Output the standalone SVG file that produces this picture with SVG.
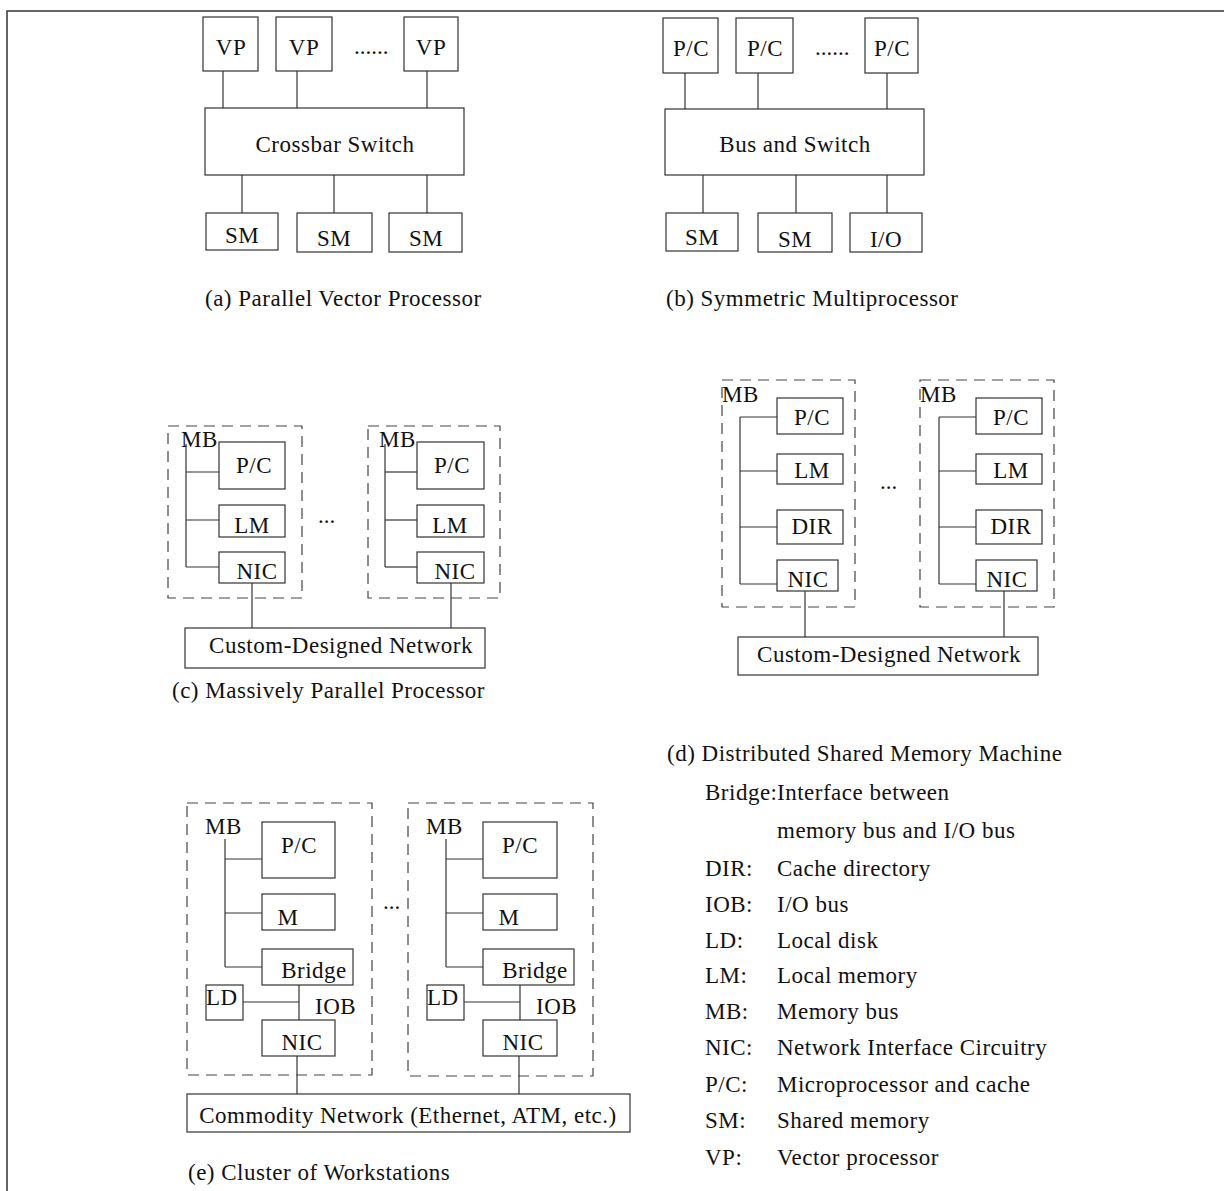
<svg xmlns="http://www.w3.org/2000/svg" width="1224" height="1191" viewBox="0 0 1224 1191">
<style>
rect.b{fill:#fff;stroke:#333;stroke-width:1.2}
rect.d{fill:none;stroke:#444;stroke-width:1.2;stroke-dasharray:11 7}
.c line{stroke:#333;stroke-width:1.2}
text{font-family:"Liberation Serif","Times New Roman",serif;font-size:23px;letter-spacing:0.5px;fill:#111}
.m{text-anchor:middle}
.dt{letter-spacing:0}
</style>
<rect width="1224" height="1191" fill="#fff"/>
<path d="M7,1191 V11 H1224" fill="none" stroke="#333" stroke-width="1.5"/>

<g id="connectors" class="c">
<!-- a -->
<line x1="223" y1="71" x2="223" y2="108"/><line x1="297" y1="71" x2="297" y2="108"/><line x1="427" y1="71" x2="427" y2="108"/>
<line x1="242" y1="175" x2="242" y2="213"/><line x1="334" y1="175" x2="334" y2="213"/><line x1="427" y1="175" x2="427" y2="213"/>
<!-- b -->
<line x1="685" y1="73" x2="685" y2="109"/><line x1="758" y1="73" x2="758" y2="109"/><line x1="887" y1="73" x2="887" y2="109"/>
<line x1="703" y1="175" x2="703" y2="213"/><line x1="796" y1="175" x2="796" y2="213"/><line x1="887" y1="175" x2="887" y2="213"/>
<!-- c -->
<line x1="186" y1="444" x2="186" y2="567"/><line x1="186" y1="472" x2="219" y2="472"/><line x1="186" y1="520" x2="219" y2="520"/><line x1="186" y1="567" x2="219" y2="567"/>
<line x1="385" y1="444" x2="385" y2="567"/><line x1="385" y1="472" x2="417" y2="472"/><line x1="385" y1="520" x2="417" y2="520"/><line x1="385" y1="567" x2="417" y2="567"/>
<line x1="252" y1="583" x2="252" y2="628"/><line x1="451" y1="583" x2="451" y2="628"/>
<!-- d -->
<line x1="740" y1="417" x2="740" y2="584"/><line x1="740" y1="417" x2="777" y2="417"/><line x1="740" y1="471" x2="777" y2="471"/><line x1="740" y1="527" x2="777" y2="527"/><line x1="740" y1="584" x2="777" y2="584"/>
<line x1="939" y1="417" x2="939" y2="584"/><line x1="939" y1="417" x2="976" y2="417"/><line x1="939" y1="471" x2="976" y2="471"/><line x1="939" y1="527" x2="976" y2="527"/><line x1="939" y1="584" x2="976" y2="584"/>
<line x1="805" y1="591" x2="805" y2="637"/><line x1="1004" y1="591" x2="1004" y2="637"/>
<!-- e -->
<line x1="225" y1="839" x2="225" y2="967"/><line x1="225" y1="859" x2="262" y2="859"/><line x1="225" y1="913" x2="262" y2="913"/><line x1="225" y1="967" x2="262" y2="967"/>
<line x1="299" y1="985" x2="299" y2="1020"/><line x1="243" y1="1002" x2="299" y2="1002"/>
<line x1="446" y1="839" x2="446" y2="967"/><line x1="446" y1="859" x2="483" y2="859"/><line x1="446" y1="913" x2="483" y2="913"/><line x1="446" y1="967" x2="483" y2="967"/>
<line x1="520" y1="985" x2="520" y2="1020"/><line x1="464" y1="1002" x2="520" y2="1002"/>
<line x1="297" y1="1056" x2="297" y2="1094"/><line x1="519" y1="1056" x2="519" y2="1094"/>
</g>

<!-- (a) -->
<g id="a-vp1"><rect class="b" x="203" y="17" width="55" height="54"/><text class="m" x="231" y="55">VP</text></g>
<g id="a-vp2"><rect class="b" x="276" y="17" width="56" height="54"/><text class="m" x="304" y="55">VP</text></g>
<g id="a-vp3"><rect class="b" x="404" y="17" width="54" height="54"/><text class="m" x="431" y="55">VP</text></g>
<text class="dt" x="354" y="54">......</text>
<g id="a-crossbar"><rect class="b" x="205" y="108" width="259" height="67"/><text class="m" x="335" y="152">Crossbar Switch</text></g>
<g id="a-sm1"><rect class="b" x="206" y="213" width="72" height="37"/><text class="m" x="242" y="243">SM</text></g>
<g id="a-sm2"><rect class="b" x="297" y="213" width="75" height="39"/><text class="m" x="334" y="246">SM</text></g>
<g id="a-sm3"><rect class="b" x="389" y="213" width="73" height="39"/><text class="m" x="426" y="246">SM</text></g>
<text x="205" y="306">(a) Parallel Vector Processor</text>

<!-- (b) -->
<g id="b-pc1"><rect class="b" x="663" y="18" width="55" height="55"/><text class="m" x="691" y="56">P/C</text></g>
<g id="b-pc2"><rect class="b" x="736" y="18" width="57" height="55"/><text class="m" x="765" y="56">P/C</text></g>
<g id="b-pc3"><rect class="b" x="865" y="18" width="53" height="55"/><text class="m" x="892" y="56">P/C</text></g>
<text class="dt" x="815" y="55">......</text>
<g id="b-bus"><rect class="b" x="665" y="109" width="259" height="66"/><text class="m" x="795" y="152">Bus and Switch</text></g>
<g id="b-sm1"><rect class="b" x="666" y="213" width="72" height="38"/><text class="m" x="702" y="245">SM</text></g>
<g id="b-sm2"><rect class="b" x="758" y="213" width="74" height="39"/><text class="m" x="795" y="247">SM</text></g>
<g id="b-io"><rect class="b" x="850" y="213" width="72" height="39"/><text class="m" x="886" y="247">I/O</text></g>
<text x="666" y="306">(b) Symmetric Multiprocessor</text>

<!-- (c) -->
<g id="c-node1">
<rect class="d" x="168" y="426" width="134" height="172"/>
<text x="181" y="447">MB</text>
<rect class="b" x="219" y="442" width="66" height="47"/><text class="m" x="254" y="473">P/C</text>
<rect class="b" x="219" y="505" width="66" height="32"/><text class="m" x="252" y="533">LM</text>
<rect class="b" x="219" y="552" width="66" height="31"/><text class="m" x="257" y="579">NIC</text>
</g>
<g id="c-node2">
<rect class="d" x="368" y="426" width="132" height="172"/>
<text x="379" y="447">MB</text>
<rect class="b" x="417" y="442" width="67" height="47"/><text class="m" x="452" y="473">P/C</text>
<rect class="b" x="417" y="505" width="67" height="32"/><text class="m" x="450" y="533">LM</text>
<rect class="b" x="417" y="552" width="67" height="31"/><text class="m" x="455" y="579">NIC</text>
</g>
<text class="dt" x="318" y="523">...</text>
<g id="c-network"><rect class="b" x="185" y="628" width="300" height="40"/><text class="m" x="341" y="653">Custom-Designed Network</text></g>
<text x="172" y="698">(c) Massively Parallel Processor</text>

<!-- (d) -->
<g id="d-node1">
<rect class="d" x="722" y="380" width="133" height="227"/>
<text x="722" y="402">MB</text>
<rect class="b" x="777" y="398" width="66" height="36"/><text class="m" x="812" y="425">P/C</text>
<rect class="b" x="777" y="454" width="66" height="30"/><text class="m" x="812" y="478">LM</text>
<rect class="b" x="777" y="510" width="66" height="34"/><text class="m" x="812" y="534">DIR</text>
<rect class="b" x="777" y="560" width="61" height="31"/><text class="m" x="808" y="587">NIC</text>
</g>
<g id="d-node2">
<rect class="d" x="920" y="380" width="134" height="227"/>
<text x="920" y="402">MB</text>
<rect class="b" x="976" y="398" width="66" height="36"/><text class="m" x="1011" y="425">P/C</text>
<rect class="b" x="976" y="454" width="66" height="30"/><text class="m" x="1011" y="478">LM</text>
<rect class="b" x="976" y="510" width="66" height="34"/><text class="m" x="1011" y="534">DIR</text>
<rect class="b" x="976" y="560" width="61" height="31"/><text class="m" x="1007" y="587">NIC</text>
</g>
<text class="dt" x="880" y="489">...</text>
<g id="d-network"><rect class="b" x="738" y="637" width="300" height="38"/><text class="m" x="889" y="662">Custom-Designed Network</text></g>
<text x="667" y="761">(d) Distributed Shared Memory Machine</text>

<!-- (e) -->
<g id="e-node1">
<rect class="d" x="187" y="803" width="185" height="272"/>
<text x="205" y="834">MB</text>
<rect class="b" x="262" y="822" width="73" height="56"/><text class="m" x="299" y="853">P/C</text>
<rect class="b" x="262" y="894" width="73" height="36"/><text class="m" x="288" y="925">M</text>
<rect class="b" x="262" y="949" width="91" height="36"/><text class="m" x="314" y="978">Bridge</text>
<rect class="b" x="206" y="985" width="37" height="35"/><text x="206" y="1005">LD</text>
<text x="315" y="1014">IOB</text>
<rect class="b" x="262" y="1020" width="73" height="36"/><text class="m" x="302" y="1050">NIC</text>
</g>
<g id="e-node2">
<rect class="d" x="408" y="803" width="185" height="273"/>
<text x="426" y="834">MB</text>
<rect class="b" x="483" y="822" width="74" height="56"/><text class="m" x="520" y="853">P/C</text>
<rect class="b" x="483" y="894" width="74" height="36"/><text class="m" x="509" y="925">M</text>
<rect class="b" x="483" y="949" width="91" height="36"/><text class="m" x="535" y="978">Bridge</text>
<rect class="b" x="427" y="985" width="37" height="35"/><text x="427" y="1005">LD</text>
<text x="536" y="1014">IOB</text>
<rect class="b" x="483" y="1020" width="74" height="36"/><text class="m" x="523" y="1050">NIC</text>
</g>
<text class="dt" x="383" y="909">...</text>
<g id="e-network"><rect class="b" x="187" y="1094" width="443" height="38"/><text class="m" x="408" y="1123">Commodity Network (Ethernet, ATM, etc.)</text></g>
<text x="188" y="1180">(e) Cluster of Workstations</text>

<!-- legend -->
<g id="legend">
<text x="705" y="800">Bridge:</text><text x="777" y="800">Interface between</text>
<text x="777" y="838">memory bus and I/O bus</text>
<text x="705" y="876">DIR:</text><text x="777" y="876">Cache directory</text>
<text x="705" y="912">IOB:</text><text x="777" y="912">I/O bus</text>
<text x="705" y="948">LD:</text><text x="777" y="948">Local disk</text>
<text x="705" y="983">LM:</text><text x="777" y="983">Local memory</text>
<text x="705" y="1019">MB:</text><text x="777" y="1019">Memory bus</text>
<text x="705" y="1055">NIC:</text><text x="777" y="1055">Network Interface Circuitry</text>
<text x="705" y="1092">P/C:</text><text x="777" y="1092">Microprocessor and cache</text>
<text x="705" y="1128">SM:</text><text x="777" y="1128">Shared memory</text>
<text x="705" y="1165">VP:</text><text x="777" y="1165">Vector processor</text>
</g>
</svg>
